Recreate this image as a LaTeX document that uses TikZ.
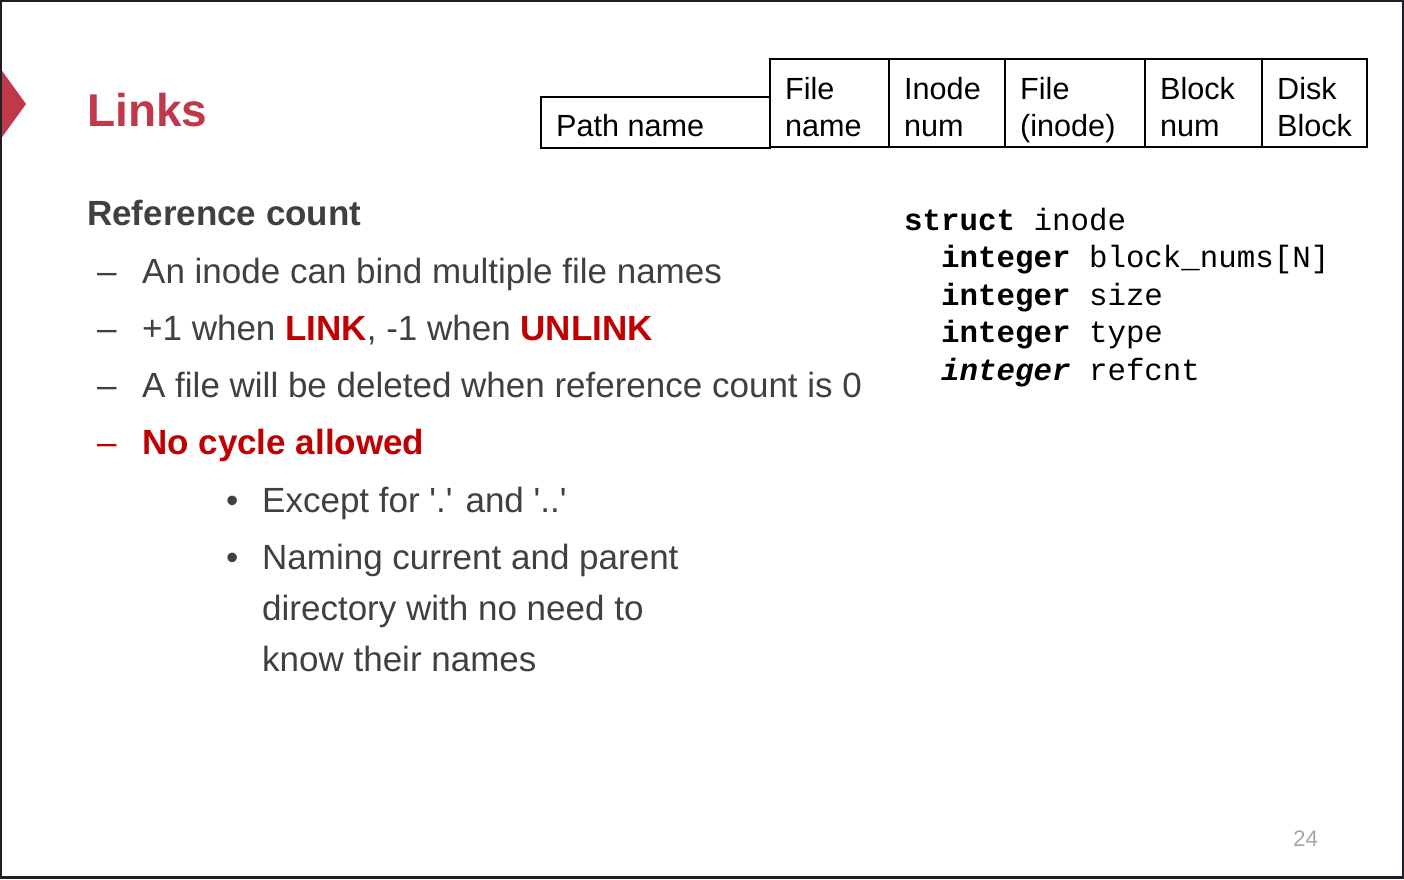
\documentclass[tikz,border=0pt]{standalone}
\usepackage{fontspec}
\setmainfont{Liberation Sans}
\setmonofont{Liberation Mono}
\usetikzlibrary{positioning}
\definecolor{slidered}{HTML}{C0394B}
\definecolor{accent}{HTML}{C00000}
\definecolor{bodygray}{HTML}{404040}
\definecolor{framegray}{HTML}{1F1F27}
\definecolor{numgray}{HTML}{A6A6A6}

\begin{document}
\begin{tikzpicture}[x=1pt, y=-1pt,
        title/.style={anchor=base west, inner sep=0, text=slidered, font={\fontsize{46}{55}\selectfont\bfseries}},
        head/.style={anchor=base west, inner sep=0, text=bodygray, font={\fontsize{35}{42}\selectfont\bfseries}},
        item/.style={anchor=base west, inner sep=0, align=left, text=bodygray, font={\fontsize{35}{51}\selectfont}},
        bulletmark/.style={anchor=base west, inner sep=0, text=bodygray, font={\fontsize{35}{42}\selectfont}},
        cell/.style={draw, line width=1.3, outer sep=0, inner sep=0, minimum height=88, anchor=north west},
        celltext/.style={anchor=base west, inner sep=0, align=left, font={\fontsize{30.6}{37}\selectfont}},
        code/.style={anchor=base west, inner sep=0, align=left, font={\fontsize{30.8}{37.5}\selectfont\ttfamily}},
        pagenum/.style={anchor=base west, inner sep=0, text=numgray, font={\fontsize{22.5}{27}\selectfont}}
    ]
    \useasboundingbox (0,0) rectangle (1404,879);

    % title marker
    \fill[slidered] (0,68) -- (26,104) -- (0,140) -- cycle;
    \node[title] (title) at (87,126) {Links};

    % path name table (base of a two-line node is its last line)
    \node[cell, minimum width=229, minimum height=51] (path) at (541,97) {};
    \node[cell, minimum width=119] (fname) at (770,59) {};
    \node[cell, minimum width=116] (inum)   [right=0pt of fname] {};
    \node[cell, minimum width=140] (finode) [right=0pt of inum] {};
    \node[cell, minimum width=117] (bnum)   [right=0pt of finode] {};
    \node[cell, minimum width=105] (disk)   [right=0pt of bnum] {};
    \draw[line width=2.5] (bnum.north west) -- (bnum.south west);

    \node[celltext] (pathtxt)   at ([shift={(15,39)}]path.north west)   {Path name};
    \node[celltext] (fnametxt)  at ([shift={(15,77)}]fname.north west)  {File\\name};
    \node[celltext] (inumtxt)   at ([shift={(15,77)}]inum.north west)   {Inode\\num};
    \node[celltext] (finodetxt) at ([shift={(15,77)}]finode.north west) {File\\(inode)};
    \node[celltext] (bnumtxt)   at ([shift={(15,77)}]bnum.north west)   {Block\\num};
    \node[celltext] (disktxt)   at ([shift={(15,77)}]disk.north west)   {Disk\\Block};

    % reference count
    \node[head] (refcount) at (87,225) {Reference count};
    \node[bulletmark] (d1) at (97,283) {\textendash};
    \node[item] (bind) at (142,283) {An inode can bind multiple file names};
    \node[bulletmark] (d2) at (97,340) {\textendash};
    \node[item] (plus) at (142,340) {+1 when \textbf{\color{accent}LINK}, -1 when \textbf{\color{accent}UNLINK}};
    \node[bulletmark] (d3) at (97,397) {\textendash};
    \node[item] (deleted) at (142,397) {A file will be deleted when reference count is 0};
    \node[bulletmark, text=accent] (d4) at (97,454) {\textendash};
    \node[item, text=accent, font={\fontsize{35}{51}\selectfont\bfseries}] (nocycle) at (142,454) {No cycle allowed};
    \node[bulletmark] (b1) at (226,512) {\textbullet};
    \node[item] (except) at (262,512) {Except for \textquotesingle.\textquotesingle{} and \textquotesingle..\textquotesingle};
    \node[bulletmark] (b2) at (226,569) {\textbullet};
    \node[item] (naming) at (262,671) {Naming current and parent\\directory with no need to\\know their names};

    % struct inode
    \node[code] (inode) at (904,380) {\textbf{struct} inode\\
        \ \ \textbf{integer} block\_nums[N]\\
        \ \ \textbf{integer} size\\
        \ \ \textbf{integer} type\\
        \ \ \textbf{\itshape integer} refcnt};

    \node[pagenum] (page) at (1293,846) {24};

    % frame
    \draw[framegray, line width=2] (1,1) rectangle (1403,877);
    \draw[framegray, line width=3] (0,877) -- (1404,877);
\end{tikzpicture}
\end{document}
